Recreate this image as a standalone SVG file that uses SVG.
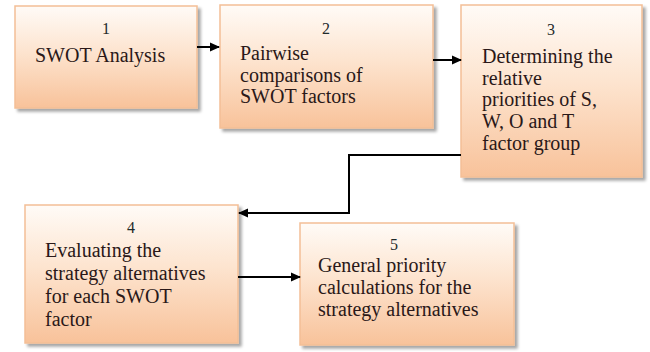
<svg xmlns="http://www.w3.org/2000/svg" width="650" height="352" viewBox="0 0 650 352">
<defs>
<linearGradient id="g" x1="0" y1="0" x2="0" y2="1">
<stop offset="0" stop-color="#fffbf7"/>
<stop offset="0.45" stop-color="#fde4cf"/>
<stop offset="1" stop-color="#f8c29a"/>
</linearGradient>
<filter id="sh" x="-10%" y="-10%" width="125%" height="125%">
<feDropShadow dx="3" dy="3" stdDeviation="1.5" flood-color="#000" flood-opacity="0.35"/>
</filter>
<marker id="ah" markerWidth="10" markerHeight="10" refX="9" refY="5" orient="auto" markerUnits="userSpaceOnUse">
<path d="M0,0.5 L10,5 L0,9.5 Z" fill="#000"/>
</marker>
<style>
.box{fill:url(#g);stroke:#f3bf96;stroke-width:1.5;filter:url(#sh)}
.t{font-family:"Liberation Serif","Times New Roman",serif;font-size:20px;fill:#2a1818}
.n{font-family:"Liberation Serif","Times New Roman",serif;font-size:16px;fill:#1f2a2a;text-anchor:middle}
.c{fill:none;stroke:#000;stroke-width:2;marker-end:url(#ah)}
</style>
</defs>
<rect width="650" height="352" fill="#fff"/>
<g id="node1">
<rect class="box" x="15" y="6" width="182" height="102"/>
<text class="n" x="106" y="34">1</text>
<text class="t" x="35" y="62">SWOT Analysis</text>
</g>
<g id="node2">
<rect class="box" x="220" y="5" width="213" height="123"/>
<text class="n" x="326" y="34">2</text>
<text class="t" x="240" y="60">Pairwise</text>
<text class="t" x="240" y="82">comparisons  of</text>
<text class="t" x="240" y="103">SWOT factors</text>
</g>
<g id="node3">
<rect class="box" x="461" y="5" width="181" height="172"/>
<text class="n" x="551" y="35">3</text>
<text class="t" x="482" y="63">Determining the</text>
<text class="t" x="482" y="85">relative</text>
<text class="t" x="482" y="106">priorities  of S,</text>
<text class="t" x="482" y="128">W, O and T</text>
<text class="t" x="482" y="150">factor group</text>
</g>
<g id="node4">
<rect class="box" x="25" y="205" width="213" height="138"/>
<text class="n" x="131" y="233">4</text>
<text class="t" x="45" y="257">Evaluating the</text>
<text class="t" x="45" y="280">strategy alternatives</text>
<text class="t" x="45" y="303">for each SWOT</text>
<text class="t" x="45" y="326">factor</text>
</g>
<g id="node5">
<rect class="box" x="300" y="223" width="214" height="122"/>
<text class="n" x="394" y="250">5</text>
<text class="t" x="318" y="272">General priority</text>
<text class="t" x="318" y="294">calculations for the</text>
<text class="t" x="318" y="316">strategy alternatives</text>
</g>
<g id="connectors">
<path class="c" d="M197,47 H219"/>
<path class="c" d="M433,60 H461"/>
<path class="c" d="M461,155 H349 V213 H239"/>
<path class="c" d="M238,277 H300"/>
</g>
</svg>
